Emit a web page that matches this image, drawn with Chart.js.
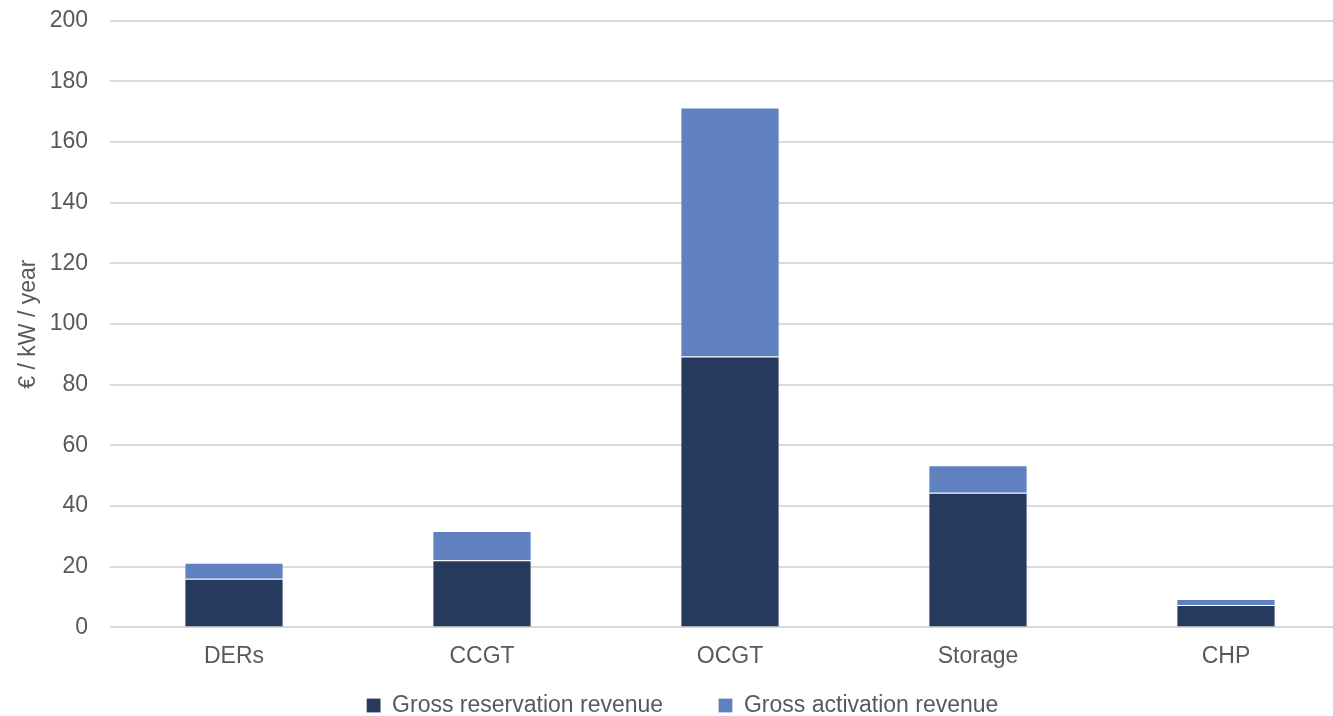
<!DOCTYPE html>
<html lang="en">
<head>
    <meta charset="UTF-8">
    <title>Revenue per technology</title>
    <script src="https://cdn.jsdelivr.net/npm/chart.js"></script>
    <style>
        body { margin: 0; overflow: hidden; background: #fff; }
        #wrap { width: 1350px; height: 716px; overflow: hidden; }
        #revenueChart { margin-top: -15px; display: block; }
    </style>
</head>
<body>
    <div id="wrap">
        <canvas id="revenueChart" width="1350" height="742"></canvas>
    </div>
    <script>
        // data
        const categories = ['DERs', 'CCGT', 'OCGT', 'Storage', 'CHP'];
        const reservationRevenue = [16.0, 22.1, 89.3, 44.4, 7.4];
        const activationRevenue = [5.3, 9.7, 82.1, 9.1, 2.0];
        const yTicks = [0, 20, 40, 60, 80, 100, 120, 140, 160, 180, 200];

        const textColor = '#595959';
        const font = { family: 'Liberation Sans, Arial, sans-serif', size: 23 };

        const ctx = document.getElementById('revenueChart').getContext('2d');
        new Chart(ctx, {
            type: 'bar',
            data: {
                labels: categories,
                datasets: [{
                    label: 'Gross reservation revenue',
                    data: reservationRevenue,
                    backgroundColor: '#263a5e',
                    borderColor: 'rgba(255,255,255,0.2)',
                    borderWidth: 1
                }, {
                    label: 'Gross activation revenue',
                    data: activationRevenue,
                    backgroundColor: '#5f81bf',
                    borderColor: 'rgba(255,255,255,0.2)',
                    borderWidth: 1
                }]
            },
            options: {
                responsive: false,
                animation: false,
                layout: { padding: { left: 15, top: 0, right: 0, bottom: 0 } },
                datasets: {
                    bar: { categoryPercentage: 1, barPercentage: 0.4 }
                },
                plugins: {
                    legend: {
                        position: 'bottom',
                        labels: {
                            color: textColor,
                            font: font,
                            boxWidth: 14,
                            boxHeight: 14,
                            padding: 17,
                            // wider gap between the two entries
                            generateLabels: chart => {
                                const items = Chart.defaults.plugins.legend.labels.generateLabels(chart);
                                items[0].text = items[0].text + '      ';
                                return items;
                            }
                        }
                    },
                    tooltip: { enabled: false }
                },
                scales: {
                    x: {
                        stacked: true,
                        grid: { display: false },
                        border: { display: false },
                        ticks: { color: textColor, font: font, padding: 7 }
                    },
                    y: {
                        stacked: true,
                        min: 0,
                        max: 200,
                        afterBuildTicks: axis => { axis.ticks = yTicks.map(v => ({ value: v })); },
                        afterFit: axis => { axis.width = 95; },
                        grid: { color: '#d9d9d9', lineWidth: 2, drawTicks: false },
                        border: { display: false },
                        ticks: { color: textColor, font: font, padding: 22 },
                        title: {
                            display: true,
                            text: '€ / kW / year',
                            color: textColor,
                            font: font,
                            padding: { top: 0, bottom: 6 }
                        }
                    }
                }
            }
        });
    </script>
</body>
</html>
